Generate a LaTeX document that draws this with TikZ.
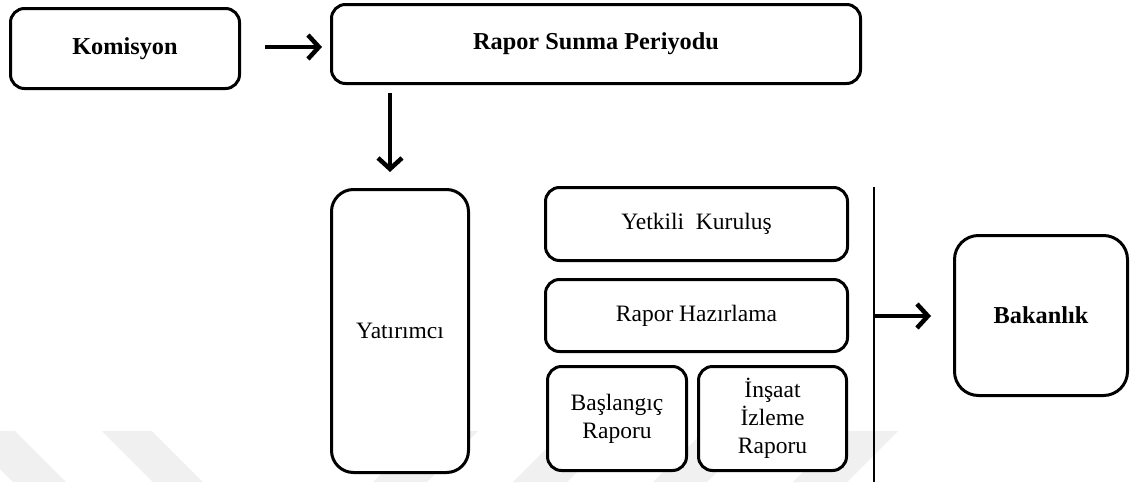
\documentclass[tikz,border=0pt]{standalone}
\usepackage{fontspec}
\setmainfont{Liberation Serif}
\usetikzlibrary{arrows.meta}

\tikzset{
  x=1pt, y=-1pt,
  box/.style={draw=black, line width=3pt, fill=white, rectangle,
    rounded corners=14pt, align=center, inner sep=0pt,
    font=\fontsize{23.5}{28}\selectfont},
  boldbox/.style={box, font=\fontsize{24.3}{28}\selectfont\bfseries},
  arr/.style={line width=4.5pt,
    -{Straight Barb[length=11pt,width=24pt,line width=4.5pt]}},
  band/.style={fill=black!6, draw=none},
}

\begin{document}
\begin{tikzpicture}
  % canvas
  \useasboundingbox (0,0) rectangle (1135,482);
  \fill[white] (0,0) rectangle (1135,482);

  % faint diagonal bands along the bottom edge
  \begin{scope}
    \clip (0,0) rectangle (1135,482);
    \fill[band] (-38,431) -- (15,431) -- (66,482) -- (13,482) -- cycle;
    \fill[band] (102,431) -- (152,431) -- (203,482) -- (153,482) -- cycle;
    \fill[band] (424,431) -- (478,431) -- (427,482) -- (373,482) -- cycle;
    \fill[band] (564,431) -- (618,431) -- (567,482) -- (513,482) -- cycle;
    \fill[band] (704,431) -- (758,431) -- (707,482) -- (653,482) -- cycle;
    \fill[band] (844,431) -- (898,431) -- (847,482) -- (793,482) -- cycle;
  \end{scope}

  % top row
  \node[boldbox, minimum width=229pt, minimum height=80pt] (kom) at (125,48.5) {Komisyon};
  \node[boldbox, minimum width=529pt, minimum height=79pt] (rsp) at (596,44) {Rapor Sunma Periyodu};

  % investor column
  \node[box, rounded corners=22pt, minimum width=137pt, minimum height=283pt] (yat) at (400,331) {Yatırımcı};

  % authorised body stack
  \node[box, minimum width=302pt, minimum height=73pt] (yet) at (696.5,224) {Yetkili\ \ Kuruluş};
  \node[box, minimum width=302pt, minimum height=72pt] (rh) at (696.5,315.5) {Rapor Hazırlama};
  \node[box, minimum width=139pt, minimum height=104pt] (bas) at (617,418.5) {Başlangıç\\Raporu};
  \node[box, minimum width=148pt, minimum height=104pt] (ins) at (772.5,418.5) {İnşaat\\İzleme\\Raporu};

  % ministry
  \node[boldbox, rounded corners=24pt, minimum width=173pt, minimum height=160pt] (bak) at (1041,315.5) {Bakanlık};

  % separator line and its outlet
  \coordinate (vtop) at (874,187);
  \coordinate (vbot) at (874,482);
  \coordinate (vout) at (874,316);
  \draw[line width=2.6pt] (vtop) -- (vbot);

  % connectors
  \draw[arr, shorten <=24pt, shorten >=8pt] (kom.east |- 0,47) -- (rsp.west |- 0,47);
  \draw[arr, shorten <=8pt, shorten >=16pt] ([xshift=-10pt]yat.north |- rsp.south) -- ([xshift=-10pt]yat.north);
  \draw[arr, shorten >=22pt] (vout) -- (bak.west |- vout);
\end{tikzpicture}
\end{document}
